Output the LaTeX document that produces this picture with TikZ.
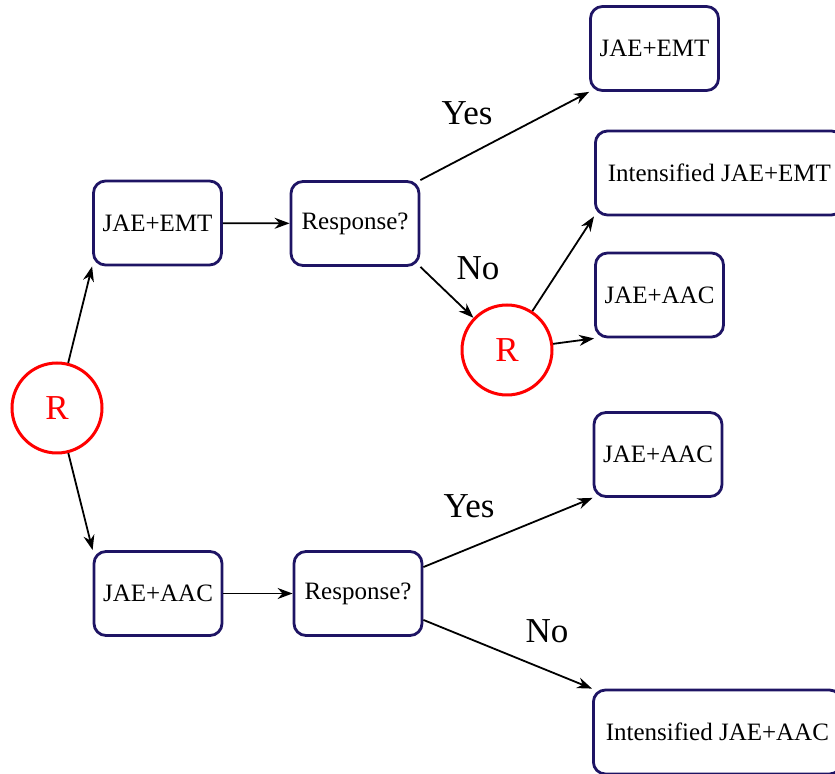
\documentclass[tikz,border=0pt]{standalone}
\usepackage{fontspec}
\setmainfont{Liberation Serif}
\usepackage{xcolor}
\usepackage{tikz}
\usetikzlibrary{arrows.meta,positioning}

\definecolor{boxnavy}{RGB}{30,20,100}

\begin{document}
\begin{tikzpicture}[
  x=0.5pt, y=-0.5pt,
  armbox/.style={draw=boxnavy, line width=1.4pt, rounded corners=6pt,
    minimum width=64pt, minimum height=42pt, inner sep=4.5pt,
    font=\fontsize{12.5}{15}\selectfont},
  widebox/.style={armbox, anchor=west, minimum width=124pt},
  randnode/.style={circle, draw=red, line width=1.5pt, text=red,
    minimum size=45pt, inner sep=0pt, font=\fontsize{17.5}{20}\selectfont},
  flow/.style={-{Stealth[length=7.5pt,width=5.5pt]}, line width=0.9pt},
  answer/.style={font=\fontsize{17.5}{20}\selectfont}
]
\useasboundingbox (0,0) rectangle (835,774);
\clip (0,0) rectangle (835,774);
% first randomisation
\node[randnode] (r1) at (57,408) {R};
\node[armbox] (emt1) at (157.5,223) {JAE+EMT};
\node[armbox] (resp1) at (355,223.5) {Response?};
\node[armbox] (aac1) at (158,593.5) {JAE+AAC};
\node[armbox] (resp2) at (358,593.5) {Response?};
% upper arm outcomes
\node[armbox] (emtyes) at (654.5,48.5) {JAE+EMT};
\node[randnode] (r2) at (507,350) {R};
\node[widebox] (emtint) at (594,173) {Intensified JAE+EMT};
\node[armbox] (emtaac) at (659.5,295) {JAE+AAC};
% lower arm outcomes
\node[armbox] (aacyes) at (658,454.5) {JAE+AAC};
\node[widebox] (aacint) at (592,732) {Intensified JAE+AAC};
% answers
\node[answer] (yes1) at (467,113) {Yes};
\node[answer] (no1) at (478,268) {No};
\node[answer] (yes2) at (469,506) {Yes};
\node[answer] (no2) at (547,631) {No};
% connectors
\draw[flow] (r1) -- (emt1.south west);
\draw[flow] (r1) -- (aac1.north west);
\draw[flow] (emt1) -- (resp1);
\draw[flow] (aac1) -- (resp2);
\draw[flow] (resp1.north east) -- (emtyes.south west);
\draw[flow] (resp1.south east) -- (r2);
\draw[flow] (r2) -- (emtint.south west);
\draw[flow] (r2) -- (emtaac.south west);
\draw[flow] (resp2.22) -- (aacyes.south west);
\draw[flow] (resp2.-22) -- (aacint.north west);
\end{tikzpicture}
\end{document}
